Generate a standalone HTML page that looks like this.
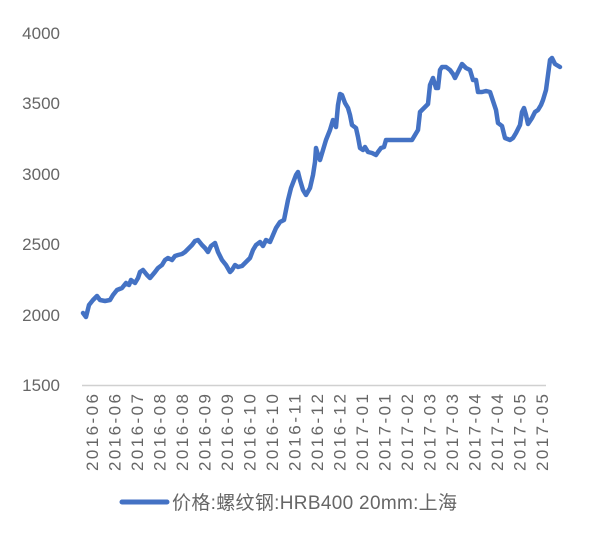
<!DOCTYPE html>
<html><head><meta charset="utf-8"><style>
html,body{margin:0;padding:0;background:#fff;}
svg text{font-family:"Liberation Sans","Noto Sans CJK SC",sans-serif;fill:#666;}
</style></head><body>
<svg width="600" height="530" viewBox="0 0 600 530" xmlns="http://www.w3.org/2000/svg">
<g font-size="17" text-anchor="end">
<text x="60" y="39">4000</text>
<text x="60" y="109">3500</text>
<text x="60" y="180">3000</text>
<text x="60" y="250">2500</text>
<text x="60" y="321">2000</text>
<text x="60" y="391">1500</text>
</g>
<line x1="82" y1="385.5" x2="546" y2="385.5" stroke="#d0d0d0" stroke-width="1.5"/>
<g font-size="17" text-anchor="end">
<text transform="translate(98,394) rotate(-90)" textLength="77">2016-06</text>
<text transform="translate(120.5,394) rotate(-90)" textLength="77">2016-06</text>
<text transform="translate(143,394) rotate(-90)" textLength="77">2016-07</text>
<text transform="translate(165.5,394) rotate(-90)" textLength="77">2016-08</text>
<text transform="translate(188,394) rotate(-90)" textLength="77">2016-08</text>
<text transform="translate(210.5,394) rotate(-90)" textLength="77">2016-09</text>
<text transform="translate(233,394) rotate(-90)" textLength="77">2016-09</text>
<text transform="translate(255.5,394) rotate(-90)" textLength="77">2016-10</text>
<text transform="translate(278,394) rotate(-90)" textLength="77">2016-10</text>
<text transform="translate(300.5,394) rotate(-90)" textLength="77">2016-11</text>
<text transform="translate(323,394) rotate(-90)" textLength="77">2016-12</text>
<text transform="translate(345.5,394) rotate(-90)" textLength="77">2016-12</text>
<text transform="translate(368,394) rotate(-90)" textLength="77">2017-01</text>
<text transform="translate(390.5,394) rotate(-90)" textLength="77">2017-01</text>
<text transform="translate(413,394) rotate(-90)" textLength="77">2017-02</text>
<text transform="translate(435.5,394) rotate(-90)" textLength="77">2017-03</text>
<text transform="translate(458,394) rotate(-90)" textLength="77">2017-03</text>
<text transform="translate(480.5,394) rotate(-90)" textLength="77">2017-04</text>
<text transform="translate(503,394) rotate(-90)" textLength="77">2017-04</text>
<text transform="translate(525.5,394) rotate(-90)" textLength="77">2017-05</text>
<text transform="translate(548,394) rotate(-90)" textLength="77">2017-05</text>
</g>
<polyline fill="none" stroke="#4472c4" stroke-width="4.5" stroke-linejoin="round" stroke-linecap="round" points="83,313 86,317 89,305 93,300 97,296 100,300 105,301 110,300 113,295 117,290 122,288 126,283 129,285 131,280 135,283 138,278 140,272 143,270 147,275 150,278 155,272 158,268 162,265 165,260 168,258 172,260 175,256 178,255 182,254 185,252 188,249 192,245 195,241 198,240 202,245 205,248 208,252 211,246 215,243 218,252 222,260 226,265 230,272 232,270 235,265 238,267 242,266 246,262 250,258 253,250 256,245 260,242 263,246 266,240 270,242 273,235 276,228 280,222 284,220 286,210 288,200 291,188 296,175 298,172 300,180 303,190 306,195 310,188 313,175 315,162 316,148 318,155 320,160 323,150 326,140 330,130 333,120 336,127 338,105 340,94 342,95 345,103 348,108 350,115 352,125 356,128 358,137 360,148 363,150 365,147 368,152 372,153 376,155 378,152 381,148 384,147 386,140 400,140 412,140 415,135 418,130 420,112 424,108 428,104 430,85 433,78 436,88 438,88 440,70 442,67 446,67 450,70 453,74 455,78 458,72 462,64 466,68 470,70 473,80 476,80 478,92 482,92 486,91 490,92 494,104 496,110 498,123 502,126 505,138 510,140 513,138 516,133 520,125 522,112 524,108 526,115 528,124 532,118 535,112 538,110 541,105 543,100 546,90 548,75 550,60 552,58 555,64 560,67"/>
<line x1="122" y1="502" x2="167" y2="502" stroke="#4472c4" stroke-width="5" stroke-linecap="round"/>
<text x="172" y="509" font-size="19" fill="#555" textLength="285">价格:螺纹钢:HRB400 20mm:上海</text>
</svg>
</body></html>
